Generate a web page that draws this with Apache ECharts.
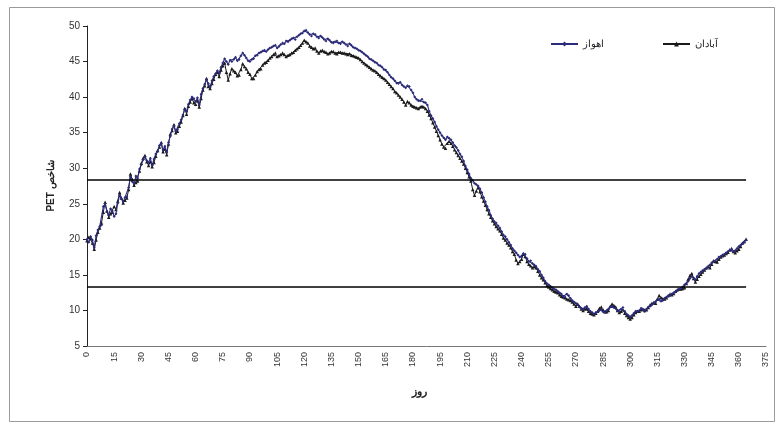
<!DOCTYPE html>
<html>
<head>
<meta charset="utf-8">
<script src="https://cdn.jsdelivr.net/npm/echarts@6/dist/echarts.min.js"></script>
<style>html,body{margin:0;padding:0;background:#fff}#c{width:775px;height:425px}</style>
</head>
<body>
<div id="c"></div>
<script>
const DAY_STEP = 1;
const seriesNames = ['اهواز', 'آبادان'];
const xTitle = 'روز';
const yTitle = 'شاخص PET';
const thresholds = [28.4, 13.4];
const thresholdEndDay = 364;

const ahvaz = [
20.0,19.6,20.4,19.9,18.8,20.5,21.3,21.8,22.0,24.6,
25.0,23.9,23.4,24.3,24.0,23.2,23.6,25.1,26.2,25.7,
25.3,25.9,26.0,27.3,28.8,28.1,27.8,28.9,28.6,29.9,
30.5,31.2,31.6,31.1,30.8,31.4,30.4,31.3,32.0,32.4,
33.2,33.5,32.6,33.1,32.2,33.6,34.5,35.5,36.0,35.2,
35.4,36.3,36.8,37.5,38.3,38.0,39.0,39.6,40.0,39.8,
39.4,39.9,38.9,40.4,41.2,41.8,42.5,41.9,41.4,42.3,
42.9,43.3,43.7,43.4,44.2,44.8,45.4,45.0,44.6,45.2,
45.0,45.3,45.6,45.1,45.3,45.8,46.2,45.9,45.5,45.1,
45.0,45.3,45.4,45.8,45.9,46.2,46.3,46.5,46.6,46.4,
46.7,46.9,47.0,47.2,47.3,46.9,47.1,47.4,47.6,47.5,
47.9,47.8,48.0,48.2,48.3,48.1,48.5,48.7,48.9,49.0,
49.3,49.4,49.1,48.8,48.6,48.9,48.8,48.5,48.3,48.6,
48.4,48.1,47.9,48.2,48.0,47.7,47.6,47.8,47.9,47.6,
47.5,47.8,47.6,47.4,47.2,47.5,47.3,47.0,46.9,46.8,
46.6,46.5,46.3,46.1,45.9,45.7,45.4,45.3,45.1,44.9,
44.8,44.5,44.4,44.2,43.9,43.8,43.5,43.1,42.8,42.6,
42.3,42.0,41.9,42.1,41.7,41.5,41.3,41.6,41.5,41.0,
40.6,40.0,39.7,39.5,39.5,39.7,39.3,39.2,38.9,38.0,
37.4,37.0,36.5,35.9,35.4,35.0,34.6,34.3,34.0,34.4,
34.2,34.0,33.6,33.2,32.9,32.5,32.0,31.6,31.0,30.3,
29.8,29.2,28.6,28.3,27.9,27.7,27.5,27.1,26.6,25.9,
25.3,24.6,24.1,23.4,22.9,22.5,22.3,21.9,21.6,21.1,
20.6,20.4,20.0,19.6,19.2,18.7,18.4,18.1,17.8,17.5,
17.6,18.0,17.9,17.3,16.9,17.0,16.6,16.4,16.2,15.8,
15.5,15.0,14.6,14.1,13.8,13.6,13.4,13.2,13.0,12.9,
12.7,12.5,12.3,12.0,11.9,12.3,12.1,11.7,11.4,11.2,
11.0,10.8,10.5,10.3,10.2,10.4,10.6,10.2,9.9,9.7,
9.5,9.7,9.8,10.0,10.1,9.8,9.7,10.0,10.2,10.5,
10.6,10.4,10.3,10.0,9.9,10.2,10.4,9.9,9.5,9.3,
9.1,9.3,9.6,9.9,9.8,10.0,10.3,10.1,9.9,10.2,
10.5,10.6,10.8,11.0,11.2,11.5,11.6,11.3,11.4,11.7,
11.9,12.0,12.1,12.3,12.5,12.6,12.8,13.0,13.1,13.3,
13.6,13.8,14.1,14.5,14.8,14.6,14.3,14.8,15.2,15.4,
15.6,15.8,15.9,16.1,16.4,16.7,16.9,17.0,17.2,17.5,
17.6,17.8,17.9,18.1,18.3,18.5,18.6,18.3,18.4,18.7,
19.0,19.2,19.4,19.6,19.9
];

const abadan = [
19.8,20.3,20.1,19.5,18.6,19.9,21.0,21.6,22.3,23.8,
25.2,24.0,23.1,23.6,23.8,24.6,24.2,25.4,26.6,25.8,
25.1,25.5,25.8,27.0,29.2,28.4,27.6,28.0,28.2,29.6,
30.7,31.4,31.8,30.9,30.4,30.9,30.2,30.8,31.7,32.5,
33.0,33.6,32.3,32.7,31.9,33.4,34.8,35.3,36.1,35.0,
35.2,35.9,36.5,37.4,38.4,37.6,38.7,39.3,39.8,39.2,
39.0,39.5,38.6,39.8,41.0,41.6,42.6,41.5,41.2,41.9,
42.5,43.2,43.5,42.9,43.8,44.4,44.8,43.5,42.4,43.3,
44.0,43.7,43.5,43.0,43.1,43.9,44.7,44.3,44.0,43.5,
43.2,42.6,42.6,43.1,43.6,43.9,44.0,44.5,44.8,44.9,
45.2,45.5,45.7,46.0,46.2,45.7,45.8,46.0,46.2,46.0,
45.7,45.9,46.0,46.2,46.3,46.6,46.8,47.0,47.3,47.6,
48.0,47.8,47.6,47.2,47.0,46.8,46.9,46.5,46.2,46.5,
46.6,46.4,46.3,46.1,46.2,46.4,46.4,46.2,46.1,46.3,
46.3,46.2,46.2,46.1,46.0,46.1,45.9,45.8,45.7,45.6,
45.5,45.3,45.0,44.8,44.6,44.4,44.2,44.0,43.8,43.7,
43.5,43.2,43.0,42.8,42.6,42.4,42.1,41.8,41.5,41.2,
40.8,40.6,40.3,40.0,39.7,39.3,38.9,39.4,39.2,38.9,
38.7,38.6,38.5,38.4,38.6,38.7,38.6,38.4,38.0,37.5,
37.0,36.4,35.8,35.2,34.6,34.0,33.4,33.0,32.8,33.5,
33.8,33.5,33.1,32.6,32.2,31.8,31.4,31.0,30.6,30.0,
29.4,28.8,28.2,27.0,26.2,26.8,27.3,26.7,26.0,25.4,
24.8,24.2,23.6,23.1,22.6,22.2,21.8,21.5,21.2,20.7,
20.2,19.9,19.5,19.2,18.8,18.3,17.9,17.1,16.6,16.9,
17.2,17.9,17.6,16.9,16.5,16.3,16.0,16.2,16.0,15.5,
15.0,14.6,14.3,13.9,13.5,13.3,13.1,12.9,12.7,12.6,
12.5,12.2,12.0,11.9,11.8,11.6,11.5,11.4,11.2,10.9,
10.6,10.9,10.6,10.2,10.0,10.2,10.3,9.9,9.6,9.5,
9.4,9.6,9.9,10.3,10.5,10.1,9.8,9.8,10.0,10.6,
10.9,10.7,10.5,10.0,9.7,9.9,10.1,9.6,9.3,9.0,
8.8,9.0,9.4,9.7,9.9,9.9,10.1,10.2,10.0,10.1,
10.4,10.8,11.0,11.1,11.0,11.6,12.1,11.8,11.6,11.6,
11.8,12.1,12.3,12.2,12.4,12.7,12.9,13.0,13.0,13.1,
13.2,13.8,14.4,14.9,15.2,14.5,14.0,14.4,14.8,15.1,
15.4,15.7,16.0,16.2,16.0,16.5,17.0,16.9,16.8,17.2,
17.5,17.7,17.8,18.0,18.2,18.5,18.7,18.3,18.1,18.4,
18.6,19.0,19.5,19.7,20.0
];

const days = ahvaz.map((_, i) => i * DAY_STEP);
const pairs = arr => arr.map((v, i) => [days[i], v]);

const FONT = 'Liberation Sans, Arial, sans-serif';
const chart = echarts.init(document.getElementById('c'), null, {renderer: 'canvas'});
chart.setOption({
  animation: false,
  backgroundColor: '#fff',
  graphic: [{
    type: 'rect', left: 7, top: 5, z: -1,
    shape: {width: 765, height: 414},
    style: {fill: 'none', stroke: '#9a9a9a', lineWidth: 1}
  }],
  legend: {
    left: 545, top: 34, itemGap: 58, itemWidth: 27, itemHeight: 6,
    textStyle: {fontFamily: FONT, fontSize: 10, color: '#222'},
    data: seriesNames
  },
  grid: {left: 87, right: 9, top: 26, bottom: 79},
  xAxis: {
    type: 'value', min: 0, max: 375, interval: 15,
    name: xTitle, nameLocation: 'middle', nameGap: 40,
    nameTextStyle: {fontFamily: FONT, fontSize: 11, fontWeight: 'bold', color: '#222', padding: [0, 14, 0, 0]},
    axisLine: {show: true, onZero: false, lineStyle: {color: '#777', width: 1}},
    axisTick: {show: false},
    splitLine: {show: false},
    axisLabel: {rotate: 90, fontFamily: FONT, fontSize: 9, color: '#333', margin: 6}
  },
  yAxis: {
    type: 'value', min: 5, max: 50, interval: 5,
    name: '\u202B' + yTitle + '\u202C', nameLocation: 'middle', nameGap: 31, nameRotate: 90,
    nameTextStyle: {fontFamily: FONT, fontSize: 10, fontWeight: 'bold', color: '#222'},
    axisLine: {show: true, lineStyle: {color: '#222', width: 1}},
    axisTick: {show: true, length: 4, lineStyle: {color: '#222'}},
    splitLine: {show: false},
    axisLabel: {fontFamily: FONT, fontSize: 10, color: '#333', margin: 7}
  },
  series: [
    {
      name: seriesNames[0], type: 'line', data: pairs(ahvaz),
      symbol: 'diamond', symbolSize: 3, showAllSymbol: true,
      lineStyle: {color: '#2b2b7a', width: 1.1},
      itemStyle: {color: '#2b2b7a'},
      z: 3,
      markLine: {
        silent: true, symbol: 'none', label: {show: false},
        lineStyle: {color: '#000', width: 1.6, type: 'solid'},
        data: thresholds.map(t => [{coord: [0, t]}, {coord: [thresholdEndDay, t]}])
      }
    },
    {
      name: seriesNames[1], type: 'line', data: pairs(abadan),
      symbol: 'triangle', symbolSize: 3.5, showAllSymbol: true,
      lineStyle: {color: '#1a1a1a', width: 1},
      itemStyle: {color: '#1a1a1a'},
      z: 2
    }
  ]
});
</script>
</body>
</html>
